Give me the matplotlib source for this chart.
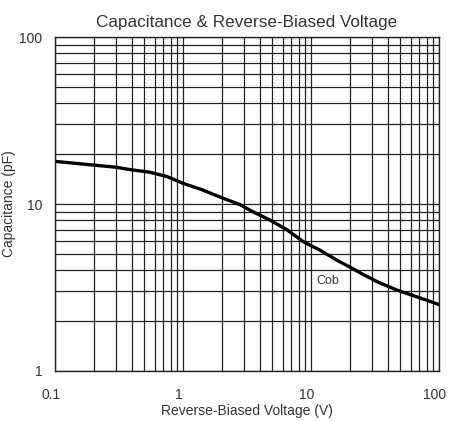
import matplotlib
matplotlib.use('Agg')
import matplotlib.pyplot as plt
import matplotlib.transforms as mtransforms
from matplotlib.ticker import LogLocator, FixedLocator, FixedFormatter, NullFormatter

plt.rcParams['font.family'] = ['Liberation Sans', 'DejaVu Sans']

# Cob curve
voltage = [0.1, 0.2, 0.3, 0.4, 0.55, 0.75, 1.0, 1.4, 1.95, 2.8, 3.5, 4.8,
           6.5, 8.7, 11.7, 16, 20, 26, 33, 47, 70, 100]
cob = [18.0, 17.1, 16.6, 16.0, 15.5, 14.6, 13.3, 12.2, 11.0, 9.9, 9.0, 8.0,
       7.0, 5.95, 5.3, 4.6, 4.2, 3.76, 3.42, 3.05, 2.75, 2.5]

x_ticks = [0.1, 1, 10, 100]
x_labels = ['0.1', '1', '10', '100']
y_ticks = [1, 10, 100]
y_labels = ['1', '10', '100']

txt = '#333333'

fig = plt.figure(figsize=(4.49, 4.21), dpi=100)
ax = fig.add_axes([55 / 449, 1 - 371 / 421, 384 / 449, 334 / 421])

ax.plot(voltage, cob, color='black', lw=2.4, solid_capstyle='round',
        solid_joinstyle='round')
ax.set_xscale('log')
ax.set_yscale('log')
ax.set_xlim(0.1, 100)
ax.set_ylim(1, 100)

ax.xaxis.set_major_locator(FixedLocator(x_ticks))
ax.xaxis.set_major_formatter(FixedFormatter(x_labels))
ax.yaxis.set_major_locator(FixedLocator(y_ticks))
ax.yaxis.set_major_formatter(FixedFormatter(y_labels))
ax.xaxis.set_minor_locator(LogLocator(base=10, subs=range(2, 10)))
ax.yaxis.set_minor_locator(LogLocator(base=10, subs=range(2, 10)))
ax.xaxis.set_minor_formatter(NullFormatter())
ax.yaxis.set_minor_formatter(NullFormatter())

ax.grid(True, which='both', color='#222222', lw=0.9)
ax.tick_params(which='both', length=0, labelsize=10, labelcolor=txt)
ax.tick_params(axis='x', pad=12)
ax.tick_params(axis='y', pad=9)
for s in ax.spines.values():
    s.set_color('#222222')
    s.set_linewidth(1.0)

# x tick labels sit a little left of their gridlines in the reference
shift = mtransforms.ScaledTranslation(-4 / 100, 0, fig.dpi_scale_trans)
for lab in ax.get_xticklabels():
    lab.set_transform(lab.get_transform() + shift)

ax.set_title('Capacitance & Reverse-Biased Voltage', fontsize=12.3, color=txt, pad=7)
ax.set_xlabel('Reverse-Biased Voltage (V)', fontsize=10, color=txt, labelpad=2)
ax.set_ylabel('Capacitance (pF)', fontsize=10, color=txt)
ax.yaxis.set_label_coords(-39 / 384, 0.5)

ax.text(13.6, 3.46, 'Cob', fontsize=9, color=txt, ha='center', va='center')

fig.savefig('out.png', dpi=100)
